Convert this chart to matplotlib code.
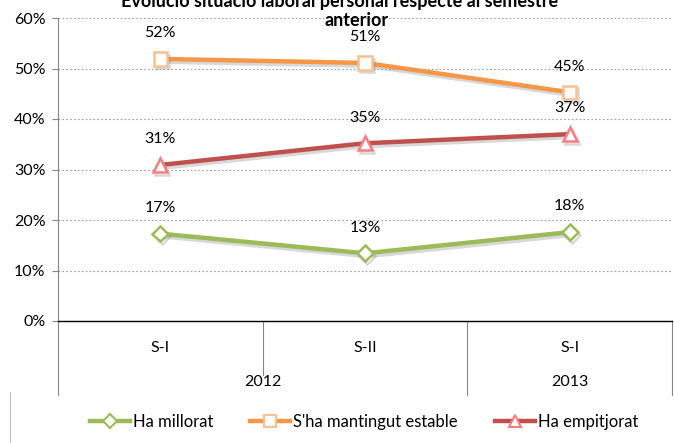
import matplotlib
matplotlib.use("Agg")
import matplotlib.pyplot as plt
import matplotlib.patheffects as pe
from matplotlib.lines import Line2D

periods = ["S-I", "S-II", "S-I"]
years = ["2012", "2013"]
year_spans = [(0, 2), (2, 3)]
series_names = ["Ha millorat", "S'ha mantingut estable", "Ha empitjorat"]
millorat = [0.173, 0.134, 0.176]
estable = [0.519, 0.511, 0.453]
empitjorat = [0.309, 0.352, 0.370]
yticks = [0, 0.1, 0.2, 0.3, 0.4, 0.5, 0.6]
title_l1 = "Evolució situació laboral personal respecte al semestre"
title_l2 = "anterior"

line_colors = ["#9BBB59", "#F79646", "#C0504D"]
edge_colors = ["#9BBB59", "#FAC090", "#FF7C80"]
markers = ["D", "s", "^"]
msizes = [8, 9.5, 10]

plt.rcParams['font.family'] = ['Lato', 'DejaVu Sans']

W, H = 674, 443
fig = plt.figure(figsize=(W / 100, H / 100), dpi=100)
L, R, T, B = 58, 672, 18, 321
ax = fig.add_axes([L / W, (H - B) / H, (R - L) / W, (B - T) / H])
ax.set_xlim(0, 3)
ax.set_ylim(0, 0.6)
px = 0.6 / (B - T)
FS = 11.5

xs = [i + 0.5 for i in range(len(periods))]
data = [millorat, estable, empitjorat]
shadow = [pe.SimpleLineShadow(offset=(1.5, -2), shadow_color='#808080', alpha=0.3), pe.Normal()]
for vals, lc, ec, mk, ms in zip(data, line_colors, edge_colors, markers, msizes):
    ax.plot(xs, vals, color=lc, lw=3.2, marker=mk, ms=ms, mfc='white', mec=ec,
            mew=1.8, zorder=3, path_effects=shadow, solid_capstyle='round')
    for x, v in zip(xs, vals):
        ax.annotate(f"{v*100:.0f}%", (x, v), xytext=(0, 18.5), textcoords='offset points',
                    ha='center', va='center', fontsize=FS, color='#000000', zorder=4)

ax.set_yticks(yticks)
ax.set_yticklabels([f"{int(round(t*100))}%" for t in yticks], fontsize=FS)
ax.yaxis.grid(True, linestyle=(0, (1.5, 2)), color='#A0A0A0', lw=0.8)
ax.set_axisbelow(True)
ax.tick_params(axis='y', length=4, width=0.8, color='#868686', pad=5)
ax.set_xticks([])
for s in ['top', 'right']:
    ax.spines[s].set_visible(False)
ax.spines['left'].set_color('#868686')
ax.spines['bottom'].set_color('#000000')
ax.spines['bottom'].set_linewidth(1.0)

# multi-level category axis
for x, p in zip(xs, periods):
    ax.text(x, -27 * px, p, ha='center', va='center', fontsize=FS, clip_on=False)
for (a, b), yr in zip(year_spans, years):
    ax.text((a + b) / 2, -61 * px, yr, ha='center', va='center', fontsize=FS, clip_on=False)
for xd in [0, 2, 3]:
    ax.plot([xd, xd], [0, -74 * px], color='#868686', lw=0.8, clip_on=False)
ax.plot([1, 1], [0, -54 * px], color='#868686', lw=0.8, clip_on=False)

# title (first line partially cut, as in the reference)
fig.text(0.5 + 3 / W, 1 - 1 / H, title_l1, ha='center', va='center', fontsize=13,
         fontweight='bold')
fig.text(0.5 + 20 / W, 1 - 21 / H, title_l2, ha='center', va='center', fontsize=13,
         fontweight='bold')

# legend
handles = [Line2D([], [], color=lc, lw=3.2, marker=mk, ms=ms * 0.85, mfc='white', mec=ec, mew=1.5)
           for lc, ec, mk, ms in zip(line_colors, edge_colors, markers, msizes)]
fig.legend(handles, series_names, loc='center', bbox_to_anchor=(0.54, 1 - 422 / H), ncol=3,
           frameon=False, fontsize=12, handlelength=2.4, columnspacing=2.2, handletextpad=0.2)

# outer chart border remnant
fig.add_artist(Line2D([10 / W, 10 / W], [0, 1 - 392 / H], color='#BFBFBF', lw=0.8))

fig.savefig("out.png", dpi=100)
